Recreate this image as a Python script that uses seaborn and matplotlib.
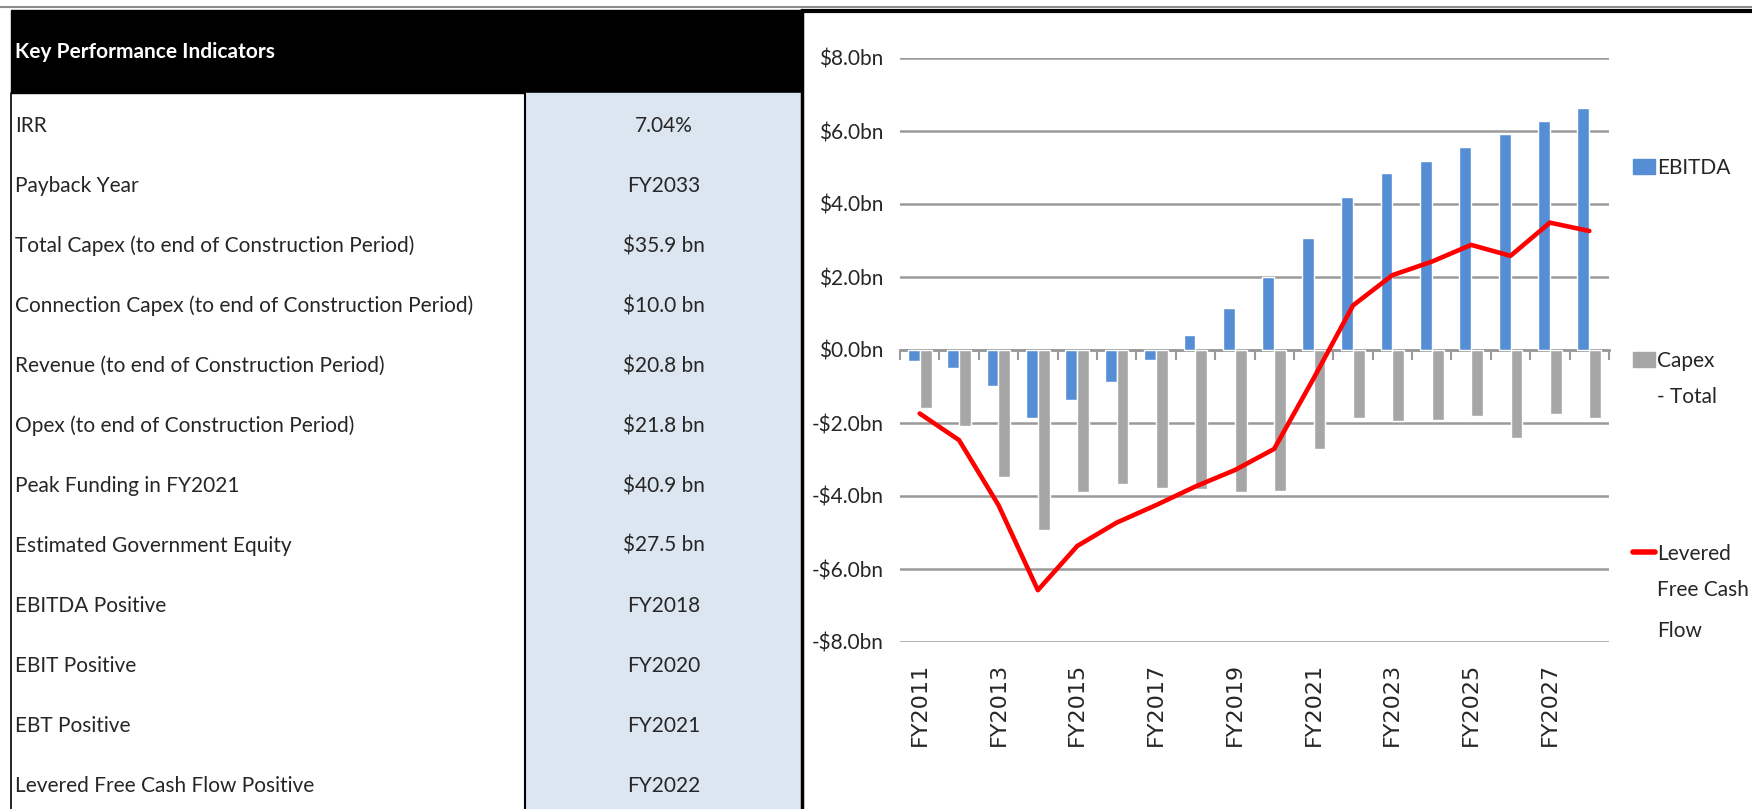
import numpy as np
import pandas as pd
import matplotlib
matplotlib.use("Agg")
import matplotlib.pyplot as plt
import matplotlib.patches as mpatches
from matplotlib.lines import Line2D
import seaborn as sns

# ---- data ----
kpi_names = [
    "IRR",
    "Payback Year",
    "Total Capex (to end of Construction Period)",
    "Connection Capex (to end of Construction Period)",
    "Revenue (to end of Construction Period)",
    "Opex (to end of Construction Period)",
    "Peak Funding in FY2021",
    "Estimated Government Equity",
    "EBITDA Positive",
    "EBIT Positive",
    "EBT Positive",
    "Levered Free Cash Flow Positive",
]
kpi_values = [
    "7.04%", "FY2033", "$35.9 bn", "$10.0 bn", "$20.8 bn", "$21.8 bn",
    "$40.9 bn", "$27.5 bn", "FY2018", "FY2020", "FY2021", "FY2022",
]

years = ["FY2011", "FY2012", "FY2013", "FY2014", "FY2015", "FY2016",
         "FY2017", "FY2018", "FY2019", "FY2020", "FY2021", "FY2022",
         "FY2023", "FY2024", "FY2025", "FY2026", "FY2027", "FY2028"]
ebitda = [-0.30, -0.48, -0.99, -1.86, -1.37, -0.89, -0.27, 0.41, 1.16,
          1.99, 3.06, 4.18, 4.84, 5.19, 5.56, 5.91, 6.27, 6.62]
capex_total = [-1.60, -2.07, -3.47, -4.94, -3.88, -3.66, -3.78, -3.82, -3.88,
               -3.85, -2.72, -1.85, -1.94, -1.91, -1.82, -2.41, -1.75, -1.85]
levered_fcf = [-1.74, -2.47, -4.25, -6.58, -5.37, -4.73, -4.25, -3.74, -3.29,
               -2.71, -0.78, 1.22, 2.05, 2.42, 2.88, 2.58, 3.49, 3.26]

y_ticks = [8, 6, 4, 2, 0, -2, -4, -6, -8]
y_tick_labels = ["$8.0bn", "$6.0bn", "$4.0bn", "$2.0bn", "$0.0bn",
                 "-$2.0bn", "-$4.0bn", "-$6.0bn", "-$8.0bn"]

BLUE = "#558ED5"
GREY = "#A6A6A6"
RED = "#FF0000"
GRID = "#9A9A9A"

sns.set_style("white")
# Lato is the closest installed face to the Calibri look of the original
plt.rcParams["font.family"] = ["Lato", "DejaVu Sans"]

W, H = 1752, 809
fig = plt.figure(figsize=(W / 100, H / 100), dpi=100)

# ---- KPI table, drawn in pixel coordinates ----
tab = fig.add_axes([0, 0, 1, 1])
tab.set_xlim(0, W)
tab.set_ylim(H, 0)
tab.axis("off")

header_top, header_bot, row_h = 10, 93, 60.0
left_x, split_x, right_x = 11, 525, 802

tab.axhline(7, color="#8C8C8C", lw=1.5)
tab.add_patch(mpatches.Rectangle((left_x, header_top), right_x - left_x,
                                 header_bot - header_top, color="black"))
tab.add_patch(mpatches.Rectangle((split_x, header_bot), right_x - split_x,
                                 H - header_bot, color="#DCE6F1"))
tab.plot([left_x, left_x], [header_bot, H], color="black", lw=1.2)
tab.plot([split_x, split_x], [header_bot, H], color="black", lw=1.5)
tab.plot([right_x, right_x], [header_top, H], color="black", lw=2.5)
tab.plot([right_x, W], [11, 11], color="black", lw=3)

tab.text(left_x + 4, (header_top + header_bot) / 2, "Key Performance Indicators",
         color="white", fontsize=15, fontweight="bold", va="center", ha="left")
for i, (name, val) in enumerate(zip(kpi_names, kpi_values)):
    yc = 126 + row_h * i
    tab.text(left_x + 4, yc, name, fontsize=15, va="center", ha="left")
    tab.text((split_x + right_x) / 2, yc, val, fontsize=15, va="center", ha="center")

# ---- chart ----
ax = fig.add_axes([900 / W, 167 / H, 709 / W, 584 / H])
ax.set_facecolor("none")

bars = pd.DataFrame({
    "year": years * 2,
    "series": ["EBITDA"] * len(years) + ["Capex - Total"] * len(years),
    "value": ebitda + capex_total,
})
sns.barplot(data=bars, x="year", y="value", hue="series", order=years,
            palette=[BLUE, GREY], width=0.6, gap=0, saturation=1,
            errorbar=None, legend=False, ax=ax, zorder=2)
sns.lineplot(x=np.arange(len(years)), y=levered_fcf, color=RED, lw=3.3,
             legend=False, ax=ax, zorder=3)

ax.set_xlim(-0.5, len(years) - 0.5)
ax.set_ylim(-8, 8)
ax.set_yticks(y_ticks)
ax.set_yticklabels(y_tick_labels, fontsize=15)
ax.set_xticks(range(0, len(years), 2))
ax.set_xticklabels(years[::2], rotation=90, fontsize=16, family="DejaVu Sans")
ax.tick_params(axis="both", length=0)
ax.tick_params(axis="x", pad=15)
ax.tick_params(axis="y", pad=12)
ax.set_xlabel("")
ax.set_ylabel("")
ax.yaxis.grid(True, color=GRID, lw=1.8, zorder=0)
ax.set_axisbelow(True)
for s in ax.spines.values():
    s.set_visible(False)

# category axis with boundary ticks on the zero line
sec = ax.secondary_xaxis(0.5)
sec.set_alignment("bottom")
sec.set_xticks(np.arange(-0.5, len(years), 1))
sec.tick_params(direction="out", length=7, width=1.5, color=GRID, labelbottom=False)
sec.spines["bottom"].set_color(GRID)
sec.spines["bottom"].set_linewidth(2)

# legend: first line of each label in the legend, the wrapped rest below it
handles = [mpatches.Patch(color=BLUE), mpatches.Patch(color=GREY),
           Line2D([], [], color=RED, lw=4)]
leg = ax.legend(handles, ["EBITDA", "Capex", "Levered"], loc="upper left",
                bbox_to_anchor=(1633 / W, 1 - 158 / H), bbox_transform=fig.transFigure,
                frameon=False, fontsize=15, borderpad=0, borderaxespad=0,
                handlelength=1.05, handleheight=0.75, handletextpad=0.12,
                labelspacing=8.3)
for txt, more in zip(leg.get_texts(), ["", "- Total", "Free Cash\nFlow"]):
    if more:
        ax.annotate(more, xy=(0, 0.5), xycoords=txt, xytext=(0, -19),
                    textcoords="offset points", va="top", ha="left",
                    fontsize=15, linespacing=2.3, annotation_clip=False, zorder=6)

fig.savefig("out.png", dpi=100)
